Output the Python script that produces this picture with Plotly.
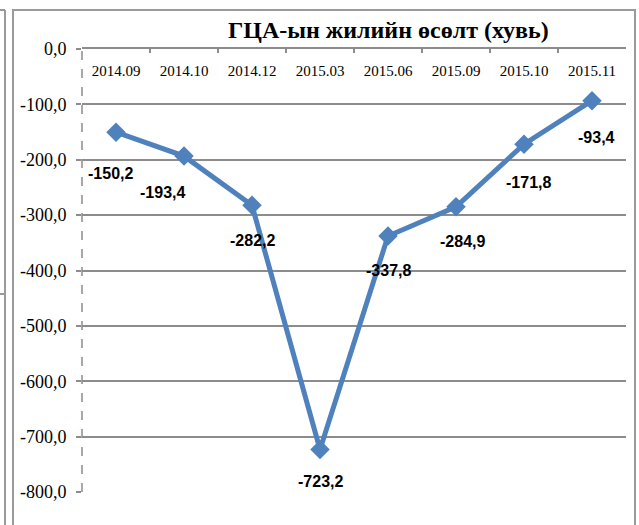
import plotly.graph_objects as go

categories = ["2014.09", "2014.10", "2014.12", "2015.03", "2015.06", "2015.09", "2015.10", "2015.11"]
values = [-150.2, -193.4, -282.2, -723.2, -337.8, -284.9, -171.8, -93.4]
value_labels = ["-150,2", "-193,4", "-282,2", "-723,2", "-337,8", "-284,9", "-171,8", "-93,4"]
y_tick_values = [0, -100, -200, -300, -400, -500, -600, -700, -800]
y_tick_labels = ["0,0", "-100,0", "-200,0", "-300,0", "-400,0", "-500,0", "-600,0", "-700,0", "-800,0"]
title_text = "ГЦА-ын жилийн өсөлт (хувь)"

# label offsets (pixels) relative to each point - style only
label_dx = [-6, -22, 0, 0, 0, 6, 4, 4]
label_dy = [-41, -36, -35, -32, -34, -35, -38, -37]

W, H = 639, 525
L, R, T, B = 82, 13, 49, 33
PW, PH = W - L - R, H - T - B


def px(x):
    return (x - L) / PW


def py(y):
    return (H - B - y) / PH


BLUE = "#4F81BD"
GRID = "#8c8c8c"
BORDER = "#9a9a9a"

fig = go.Figure()
fig.add_trace(go.Scatter(
    x=categories, y=values, mode="lines+markers",
    line=dict(color=BLUE, width=5),
    marker=dict(symbol="diamond", size=15, color=BLUE),
    hoverinfo="skip", showlegend=False,
))
# invisible copy that only carries the categories to the label axis
fig.add_trace(go.Scatter(
    x=categories, y=values, xaxis="x2", yaxis="y", mode="markers",
    marker=dict(opacity=0), hoverinfo="skip", showlegend=False,
))

# category axes take annotation positions as category indices
for i, (v, t, dx, dy) in enumerate(zip(values, value_labels, label_dx, label_dy)):
    fig.add_annotation(x=i, y=v, xref="x", yref="y", text="<b>" + t + "</b>", showarrow=False,
                       xshift=dx, yshift=dy,
                       font=dict(family="Liberation Sans", size=16, color="black"))

fig.add_annotation(x=px(388), y=py(30), xref="paper", yref="paper", text="<b>" + title_text + "</b>",
                   showarrow=False, xanchor="center", yanchor="middle",
                   font=dict(family="Liberation Serif", size=24, color="black"))

shapes = [
    # dashed vertical axis line
    dict(type="line", xref="paper", yref="paper", x0=0, x1=0, y0=0, y1=1,
         line=dict(color=GRID, width=1.5, dash="dash")),
    # chart border
    dict(type="rect", xref="paper", yref="paper", x0=px(13), x1=px(635), y0=py(535), y1=py(10),
         line=dict(color=BORDER, width=2), fillcolor="rgba(0,0,0,0)", layer="below"),
    # neighbouring frame fragment on the left
    dict(type="line", xref="paper", yref="paper", x0=px(5), x1=px(5), y0=py(535), y1=py(10),
         line=dict(color=BORDER, width=2)),
    dict(type="line", xref="paper", yref="paper", x0=px(-2), x1=px(5), y0=py(10), y1=py(10),
         line=dict(color=BORDER, width=2)),
    dict(type="line", xref="paper", yref="paper", x0=px(-2), x1=px(5), y0=py(294), y1=py(294),
         line=dict(color=BORDER, width=2)),
]

fig.update_layout(
    width=W, height=H,
    margin=dict(l=L, r=R, t=T, b=B, autoexpand=False),
    paper_bgcolor="white", plot_bgcolor="white",
    shapes=shapes,
    xaxis=dict(
        type="category", range=[-0.5, len(categories) - 0.5], automargin=False,
        side="top", showline=True, linecolor=GRID, linewidth=2,
        ticks="inside", tickson="boundaries", ticklen=4, tickcolor=GRID, tickwidth=1.5,
        showticklabels=False,
        showgrid=False, zeroline=False,
    ),
    xaxis2=dict(
        type="category", range=[-0.5, len(categories) - 0.5], automargin=False,
        overlaying="x", anchor="free", position=py(79), side="top",
        showline=False, ticks="", showgrid=False, zeroline=False,
        tickfont=dict(family="Liberation Serif", size=15, color="black"),
    ),
    yaxis=dict(
        range=[-800, 0], tickmode="array", tickvals=y_tick_values, ticktext=y_tick_labels,
        automargin=False,
        showline=False, ticks="outside", ticklen=5, tickcolor=GRID, tickwidth=1.5,
        ticklabelstandoff=6,
        showgrid=True, gridcolor=GRID, gridwidth=1.5, zeroline=False,
        tickfont=dict(family="Liberation Serif", size=18, color="black"),
    ),
)

fig.write_html(
    "out.html",
    config={"displayModeBar": False},
    post_script="document.body.style.margin='0';document.body.style.overflow='hidden';",
)
